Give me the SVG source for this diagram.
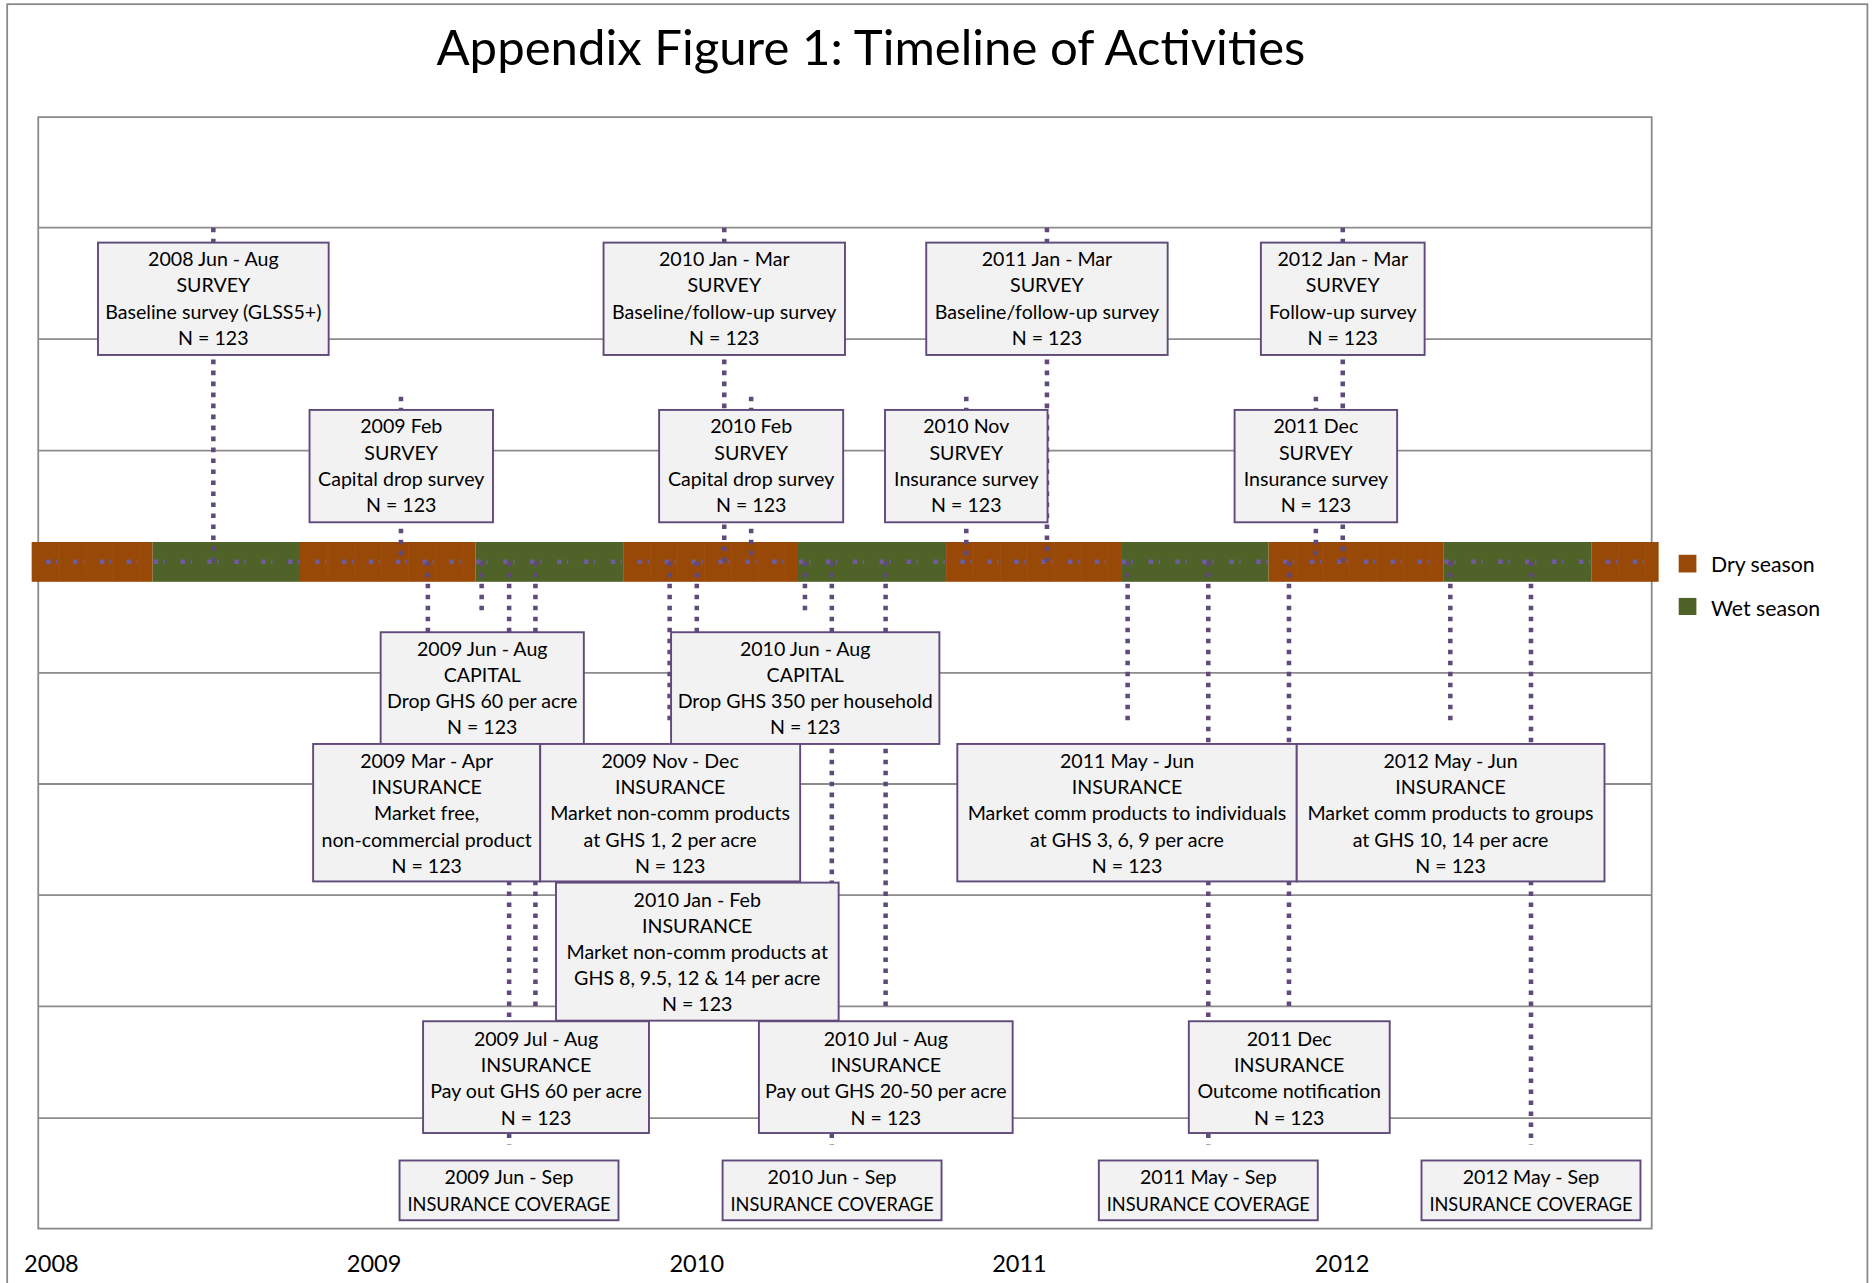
<svg xmlns="http://www.w3.org/2000/svg" width="1874" height="1283" viewBox="0 0 1874 1283">
<style>
.frame{fill:none;stroke:#8a8a8a;stroke-width:1.5}
.grid{stroke:#8c8c8c;stroke-width:1.5;fill:none}
.dry{fill:#984807}
.wet{fill:#4F6228}
.seam{stroke:#b4682c;stroke-width:1;opacity:0.22;fill:none}
.tick{stroke:#6E5C9C;stroke-width:3.9;stroke-dasharray:3.9 4.5 1.1 13;fill:none}
.c{stroke:#604A7B;stroke-width:3.8;stroke-dasharray:3.8 5.4;fill:none}
.b{fill:#F2F2F2;stroke:#604A7B;stroke-width:1.6}
.t{font-family:Lato,"Open Sans","Liberation Sans",sans-serif;font-size:16.4px;fill:#000;text-anchor:middle}
.yr{font-family:Lato,"Open Sans","Liberation Sans",sans-serif;font-size:19.7px;fill:#000;text-anchor:middle}
.lg{font-family:Lato,"Open Sans","Liberation Sans",sans-serif;font-size:17.8px;fill:#000}
.title{font-family:Lato,"Open Sans","Liberation Sans",sans-serif;font-size:40.5px;fill:#000;text-anchor:middle}
</style>
<rect width="1874" height="1283" fill="#ffffff"/>
<g transform="scale(1.19515)">
<rect class="frame" x="6" y="3.5" width="1556.5" height="1090"/>
<text class="title" x="728.7" y="54.5" textLength="727" lengthAdjust="spacingAndGlyphs">Appendix Figure 1: Timeline of Activities</text>
<g id="plot">
<rect class="frame" x="32" y="98" width="1350" height="930"/>
<path class="grid" d="M32 190.5H1382M32 283.7H1382M32 377H1382M32 563H1382M32 656H1382M32 749H1382M32 842H1382M32 935.5H1382"/>
</g>
<g id="timeline">
<rect class="dry" x="26.5" y="453.5" width="101.2" height="33.3"/>
<rect class="wet" x="127.7" y="453.5" width="123.3" height="33.3"/>
<rect class="dry" x="251" y="453.5" width="147" height="33.3"/>
<rect class="wet" x="398" y="453.5" width="123.4" height="33.3"/>
<rect class="dry" x="521.4" y="453.5" width="146.3" height="33.3"/>
<rect class="wet" x="667.7" y="453.5" width="123.9" height="33.3"/>
<rect class="dry" x="791.6" y="453.5" width="146.4" height="33.3"/>
<rect class="wet" x="938" y="453.5" width="123.5" height="33.3"/>
<rect class="dry" x="1061.5" y="453.5" width="146.5" height="33.3"/>
<rect class="wet" x="1208" y="453.5" width="123.8" height="33.3"/>
<rect class="dry" x="1331.8" y="453.5" width="56" height="33.3"/>
<path class="seam" d="M49.5 454V486.5M72 454V486.5M94.5 454V486.5M117 454V486.5M274.5 454V486.5M297 454V486.5M319.5 454V486.5M342 454V486.5M364.5 454V486.5M387 454V486.5M544.5 454V486.5M567 454V486.5M589.5 454V486.5M612 454V486.5M634.5 454V486.5M657 454V486.5M814.5 454V486.5M837 454V486.5M859.5 454V486.5M882 454V486.5M904.5 454V486.5M927 454V486.5M1084.5 454V486.5M1107 454V486.5M1129.5 454V486.5M1152 454V486.5M1174.5 454V486.5M1197 454V486.5M1354.5 454V486.5M1377 454V486.5"/>
<path class="tick" d="M38.5 470H1388"/>
</g>
<g id="connectors">
<path class="c" d="M178.5 190.5V470M606 190.5V470M876 190.5V470M1123.5 190.5V470"/>
<path class="c" d="M335.5 332V470M628.5 332V470M808.5 332V470M1101 332V470"/>
<path class="c" d="M358 470V607M403 470V515M426 470V958M448 470V842M560.3 470V607M583 470V724M673.5 470V515M696 470V958M741 470V842M943.5 470V606M1011 470V958M1078.5 470V842M1213.5 470V606M1281 470V958"/>
</g>
<g id="n2008JunAug"><rect class="b" x="82" y="203" width="193" height="94"/><text class="t" y="222.5"><tspan x="178.5">2008 Jun - Aug</tspan><tspan x="178.5" dy="22">SURVEY</tspan><tspan x="178.5" dy="22">Baseline survey (GLSS5+)</tspan><tspan x="178.5" dy="22">N = 123</tspan></text></g>
<g id="n2010JanMar"><rect class="b" x="505" y="203" width="202" height="94"/><text class="t" y="222.5"><tspan x="606">2010 Jan - Mar</tspan><tspan x="606" dy="22">SURVEY</tspan><tspan x="606" dy="22">Baseline/follow-up survey</tspan><tspan x="606" dy="22">N = 123</tspan></text></g>
<g id="n2011JanMar"><rect class="b" x="775" y="203" width="202" height="94"/><text class="t" y="222.5"><tspan x="876">2011 Jan - Mar</tspan><tspan x="876" dy="22">SURVEY</tspan><tspan x="876" dy="22">Baseline/follow-up survey</tspan><tspan x="876" dy="22">N = 123</tspan></text></g>
<g id="n2012JanMar"><rect class="b" x="1055" y="203" width="137" height="94"/><text class="t" y="222.5"><tspan x="1123.5">2012 Jan - Mar</tspan><tspan x="1123.5" dy="22">SURVEY</tspan><tspan x="1123.5" dy="22">Follow-up survey</tspan><tspan x="1123.5" dy="22">N = 123</tspan></text></g>
<g id="n2009Feb"><rect class="b" x="259" y="343" width="153.5" height="94"/><text class="t" y="362.5"><tspan x="335.7">2009 Feb</tspan><tspan x="335.7" dy="22">SURVEY</tspan><tspan x="335.7" dy="22">Capital drop survey</tspan><tspan x="335.7" dy="22">N = 123</tspan></text></g>
<g id="n2010Feb"><rect class="b" x="551.5" y="343" width="154" height="94"/><text class="t" y="362.5"><tspan x="628.5">2010 Feb</tspan><tspan x="628.5" dy="22">SURVEY</tspan><tspan x="628.5" dy="22">Capital drop survey</tspan><tspan x="628.5" dy="22">N = 123</tspan></text></g>
<g id="n2010Nov"><rect class="b" x="740.5" y="343" width="136" height="94"/><text class="t" y="362.5"><tspan x="808.5">2010 Nov</tspan><tspan x="808.5" dy="22">SURVEY</tspan><tspan x="808.5" dy="22">Insurance survey</tspan><tspan x="808.5" dy="22">N = 123</tspan></text></g>
<g id="n2011Dec"><rect class="b" x="1033" y="343" width="136" height="94"/><text class="t" y="362.5"><tspan x="1101">2011 Dec</tspan><tspan x="1101" dy="22">SURVEY</tspan><tspan x="1101" dy="22">Insurance survey</tspan><tspan x="1101" dy="22">N = 123</tspan></text></g>
<g id="n2009JunAugCap"><rect class="b" x="318.5" y="529" width="170" height="93.5"/><text class="t" y="548.5"><tspan x="403.5">2009 Jun - Aug</tspan><tspan x="403.5" dy="22">CAPITAL</tspan><tspan x="403.5" dy="22">Drop GHS 60 per acre</tspan><tspan x="403.5" dy="22">N = 123</tspan></text></g>
<g id="n2010JunAugCap"><rect class="b" x="561.5" y="529" width="224.5" height="93.5"/><text class="t" y="548.5"><tspan x="673.7">2010 Jun - Aug</tspan><tspan x="673.7" dy="22">CAPITAL</tspan><tspan x="673.7" dy="22">Drop GHS 350 per household</tspan><tspan x="673.7" dy="22">N = 123</tspan></text></g>
<g id="n2009MarApr"><rect class="b" x="262" y="622.5" width="190" height="115"/><text class="t" y="642.5"><tspan x="357">2009 Mar - Apr</tspan><tspan x="357" dy="22">INSURANCE</tspan><tspan x="357" dy="22">Market free,</tspan><tspan x="357" dy="22">non-commercial product</tspan><tspan x="357" dy="22">N = 123</tspan></text></g>
<g id="n2009NovDec"><rect class="b" x="452" y="622.5" width="217.5" height="115"/><text class="t" y="642.5"><tspan x="560.7">2009 Nov - Dec</tspan><tspan x="560.7" dy="22">INSURANCE</tspan><tspan x="560.7" dy="22">Market non-comm products</tspan><tspan x="560.7" dy="22">at GHS 1, 2 per acre</tspan><tspan x="560.7" dy="22">N = 123</tspan></text></g>
<g id="n2011MayJun"><rect class="b" x="801" y="622.5" width="284" height="115"/><text class="t" y="642.5"><tspan x="943">2011 May - Jun</tspan><tspan x="943" dy="22">INSURANCE</tspan><tspan x="943" dy="22">Market comm products to individuals</tspan><tspan x="943" dy="22">at GHS 3, 6, 9 per acre</tspan><tspan x="943" dy="22">N = 123</tspan></text></g>
<g id="n2012MayJun"><rect class="b" x="1085" y="622.5" width="257.5" height="115"/><text class="t" y="642.5"><tspan x="1213.7">2012 May - Jun</tspan><tspan x="1213.7" dy="22">INSURANCE</tspan><tspan x="1213.7" dy="22">Market comm products to groups</tspan><tspan x="1213.7" dy="22">at GHS 10, 14 per acre</tspan><tspan x="1213.7" dy="22">N = 123</tspan></text></g>
<g id="n2010JanFeb"><rect class="b" x="465.2" y="738.5" width="236.5" height="115.5"/><text class="t" y="758.5"><tspan x="583.4">2010 Jan - Feb</tspan><tspan x="583.4" dy="22">INSURANCE</tspan><tspan x="583.4" dy="22">Market non-comm products at</tspan><tspan x="583.4" dy="22">GHS 8, 9.5, 12 &amp; 14 per acre</tspan><tspan x="583.4" dy="21.5">N = 123</tspan></text></g>
<g id="n2009JulAug"><rect class="b" x="354" y="854.5" width="189" height="93.5"/><text class="t" y="875.5"><tspan x="448.5">2009 Jul - Aug</tspan><tspan x="448.5" dy="21.8">INSURANCE</tspan><tspan x="448.5" dy="21.8">Pay out GHS 60 per acre</tspan><tspan x="448.5" dy="21.8">N = 123</tspan></text></g>
<g id="n2010JulAug"><rect class="b" x="635" y="854.5" width="212.3" height="93.5"/><text class="t" y="875.5"><tspan x="741.2">2010 Jul - Aug</tspan><tspan x="741.2" dy="21.8">INSURANCE</tspan><tspan x="741.2" dy="21.8">Pay out GHS 20-50 per acre</tspan><tspan x="741.2" dy="21.8">N = 123</tspan></text></g>
<g id="n2011DecIns"><rect class="b" x="994.7" y="854.5" width="168.1" height="93.5"/><text class="t" y="875.5"><tspan x="1078.7">2011 Dec</tspan><tspan x="1078.7" dy="21.8">INSURANCE</tspan><tspan x="1078.7" dy="21.8">Outcome notification</tspan><tspan x="1078.7" dy="21.8">N = 123</tspan></text></g>
<g id="n2009Cov"><rect class="b" x="334.3" y="971" width="183.2" height="50"/><text class="t" x="425.9" y="991">2009 Jun - Sep</text><text class="t" x="425.9" y="1013" textLength="170" lengthAdjust="spacingAndGlyphs">INSURANCE COVERAGE</text></g>
<g id="n2010Cov"><rect class="b" x="604.6" y="971" width="183.2" height="50"/><text class="t" x="696.2" y="991">2010 Jun - Sep</text><text class="t" x="696.2" y="1013" textLength="170" lengthAdjust="spacingAndGlyphs">INSURANCE COVERAGE</text></g>
<g id="n2011Cov"><rect class="b" x="919.4" y="971" width="183.2" height="50"/><text class="t" x="1011" y="991">2011 May - Sep</text><text class="t" x="1011" y="1013" textLength="170" lengthAdjust="spacingAndGlyphs">INSURANCE COVERAGE</text></g>
<g id="n2012Cov"><rect class="b" x="1189.4" y="971" width="183.2" height="50"/><text class="t" x="1281" y="991">2012 May - Sep</text><text class="t" x="1281" y="1013" textLength="170" lengthAdjust="spacingAndGlyphs">INSURANCE COVERAGE</text></g>
<g id="years">
<text class="yr" x="43" y="1064">2008</text>
<text class="yr" x="313" y="1064">2009</text>
<text class="yr" x="583" y="1064">2010</text>
<text class="yr" x="853" y="1064">2011</text>
<text class="yr" x="1123" y="1064">2012</text>
</g>
<g id="legend">
<rect class="dry" x="1404.6" y="464.2" width="14.8" height="14.8"/>
<text class="lg" x="1431.6" y="479">Dry season</text>
<rect class="wet" x="1404.6" y="500.3" width="14.8" height="14.3"/>
<text class="lg" x="1431.6" y="515">Wet season</text>
</g>
</g>
</svg>
